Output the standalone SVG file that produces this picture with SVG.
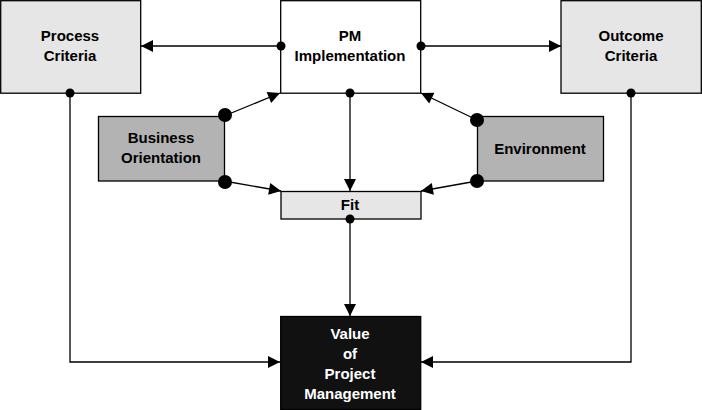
<svg xmlns="http://www.w3.org/2000/svg" width="702" height="410" viewBox="0 0 702 410">
<style>
text{font-family:"Liberation Sans",Arial,sans-serif;font-weight:bold;font-size:15px;text-anchor:middle}
.b{stroke:#000;stroke-width:1.3}
.c{stroke:#000;stroke-width:1.3;fill:none}
</style>
<defs><marker id="a" viewBox="0 0 10 10" refX="10" refY="5" markerWidth="16" markerHeight="12" markerUnits="userSpaceOnUse" orient="auto"><path d="M0,0L10,5L0,10z"/></marker></defs>
<rect width="702" height="410" fill="#fff"/>
<g id="process"><rect class="b" x="0.7" y="0.7" width="140" height="92.5" fill="#e6e6e6"/><text x="70" y="41">Process</text><text x="70" y="61">Criteria</text></g>
<g id="pm"><rect class="b" x="280.7" y="0.7" width="140" height="92.5" fill="#fff"/><text x="350" y="41">PM</text><text x="350" y="61">Implementation</text></g>
<g id="outcome"><rect class="b" x="561" y="0.7" width="140.3" height="92.5" fill="#e6e6e6"/><text x="631" y="41">Outcome</text><text x="631" y="61">Criteria</text></g>
<g id="business"><rect class="b" x="98.5" y="116.5" width="126" height="64.5" fill="#b3b3b3"/><text x="161" y="143">Business</text><text x="161" y="163">Orientation</text></g>
<g id="environment"><rect class="b" x="477.5" y="116.5" width="126" height="64.5" fill="#b3b3b3"/><text x="540" y="154">Environment</text></g>
<g id="fit"><rect class="b" x="281" y="191.5" width="140" height="27.5" fill="#e6e6e6"/><text x="350" y="210">Fit</text></g>
<g id="value"><rect class="b" x="280.7" y="316.5" width="140" height="93" fill="#111"/><text x="350" y="339" fill="#fff">Value</text><text x="350" y="359" fill="#fff">of</text><text x="350" y="379" fill="#fff">Project</text><text x="350" y="399" fill="#fff">Management</text></g>
<g id="connectors">
<path class="c" d="M281,46H141" marker-end="url(#a)"/>
<path class="c" d="M421,46H561" marker-end="url(#a)"/>
<path class="c" d="M70,93V362H280" marker-end="url(#a)"/>
<path class="c" d="M631,93V362H421" marker-end="url(#a)"/>
<path class="c" d="M350,93V191" marker-end="url(#a)"/>
<path class="c" d="M350,219V316" marker-end="url(#a)"/>
<path class="c" d="M224,116L280,93" marker-end="url(#a)"/>
<path class="c" d="M224,181L281,191" marker-end="url(#a)"/>
<path class="c" d="M477,120L421,93" marker-end="url(#a)"/>
<path class="c" d="M477,181L421,191" marker-end="url(#a)"/>
<circle cx="281" cy="46" r="4.5"/><circle cx="421" cy="46" r="4.5"/>
<circle cx="70" cy="93" r="4.5"/><circle cx="631" cy="93" r="4.5"/>
<circle cx="350" cy="93" r="4.5"/><circle cx="350" cy="219" r="4.5"/>
<circle cx="225" cy="115" r="7"/><circle cx="225" cy="182" r="7"/>
<circle cx="477" cy="120" r="7"/><circle cx="477" cy="181" r="7"/>
</g>
</svg>
